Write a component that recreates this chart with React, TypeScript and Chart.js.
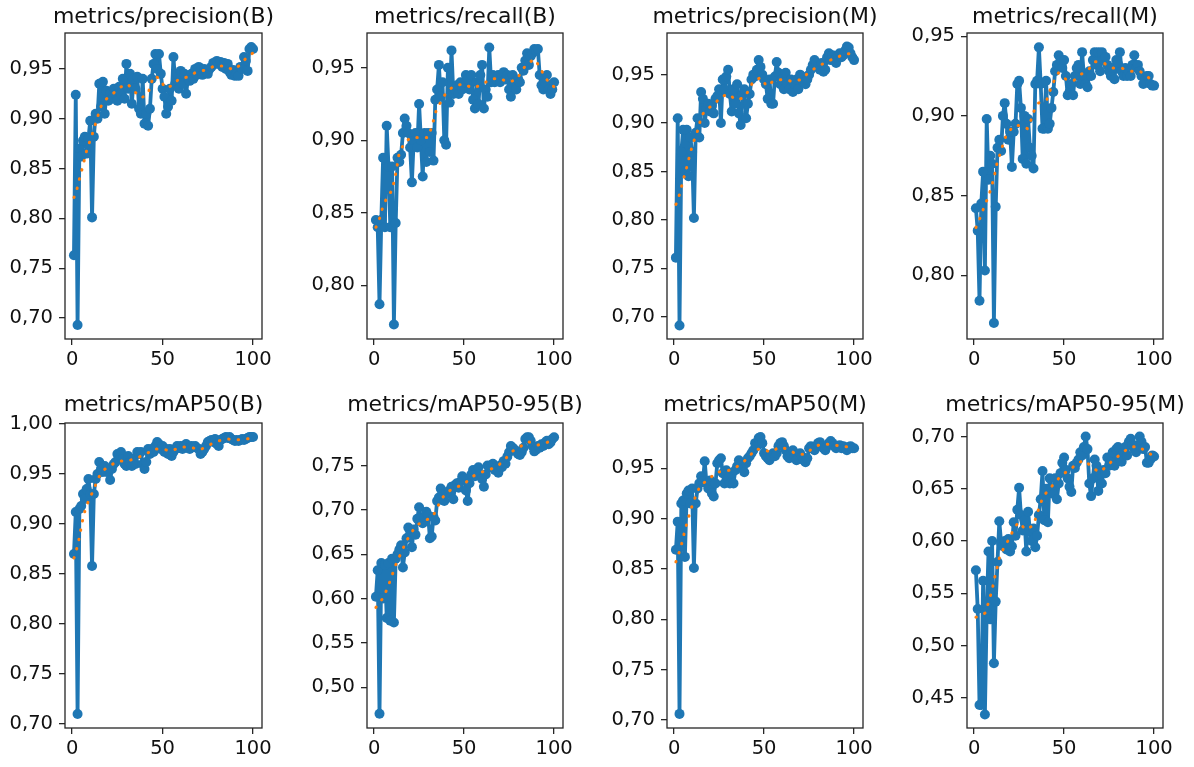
import React, { useEffect, useRef } from "react";
import { Chart, registerables } from "chart.js";

Chart.register(...registerables);

// ---------- data ----------
const EPOCHS = Array.from({ length: 100 }, (_, i) => i + 1);
const X_TICKS = [0, 50, 100];

const PRECISION_B = [
  0.763, 0.924, 0.693, 0.870, 0.862, 0.878, 0.882, 0.865, 0.880, 0.898,
  0.801, 0.882, 0.905, 0.900, 0.935, 0.912, 0.937, 0.905, 0.928, 0.918,
  0.925, 0.920, 0.930, 0.924, 0.918, 0.932, 0.925, 0.940, 0.920, 0.955,
  0.930, 0.945, 0.915, 0.940, 0.930, 0.942, 0.910, 0.905, 0.940, 0.895,
  0.905, 0.893, 0.910, 0.940, 0.955, 0.965, 0.950, 0.965, 0.945, 0.930,
  0.922, 0.905, 0.912, 0.930, 0.918, 0.962, 0.935, 0.945, 0.930, 0.948,
  0.935, 0.945, 0.925, 0.940, 0.938, 0.945, 0.940, 0.950, 0.944, 0.952,
  0.948, 0.944, 0.950, 0.947, 0.945, 0.950, 0.952, 0.956, 0.955, 0.958,
  0.955, 0.957, 0.952, 0.956, 0.950, 0.955, 0.947, 0.944, 0.949, 0.943,
  0.945, 0.943, 0.952, 0.950, 0.962, 0.958, 0.948, 0.970, 0.972, 0.970,
];
const PRECISION_B_SMOOTH = [
  [1, 0.821], [2, 0.825], [3.3, 0.834], [4.6, 0.844], [6.1, 0.853], [7.2, 0.863], [8.7, 0.872],
  [10.7, 0.882], [12.2, 0.891], [14, 0.901], [15.3, 0.91], [17.7, 0.918], [21.9, 0.924],
  [26, 0.931], [30.6, 0.935], [34.6, 0.927], [38.3, 0.921], [42, 0.925], [43.3, 0.934],
  [45.3, 0.943], [48.8, 0.94], [51.2, 0.931], [55.2, 0.933], [59.1, 0.94], [64.1, 0.942],
  [68.7, 0.947], [74.2, 0.949], [78.8, 0.953], [84.3, 0.953], [89, 0.949], [93, 0.954],
  [96.7, 0.962], [100, 0.966],
];

const RECALL_B = [
  0.845, 0.840, 0.787, 0.845, 0.888, 0.840, 0.910, 0.882, 0.840, 0.882,
  0.773, 0.843, 0.888, 0.885, 0.890, 0.905, 0.915, 0.910, 0.905, 0.895,
  0.871, 0.900, 0.905, 0.895, 0.925, 0.900, 0.875, 0.905, 0.885, 0.905,
  0.892, 0.905, 0.886, 0.928, 0.935, 0.952, 0.930, 0.940, 0.900, 0.897,
  0.950, 0.926, 0.962, 0.932, 0.935, 0.938, 0.932, 0.940, 0.935, 0.940,
  0.945, 0.942, 0.935, 0.945, 0.928, 0.922, 0.940, 0.925, 0.945, 0.952,
  0.922, 0.935, 0.930, 0.964, 0.940, 0.945, 0.940, 0.942, 0.945, 0.940,
  0.945, 0.947, 0.942, 0.945, 0.935, 0.930, 0.945, 0.940, 0.935, 0.942,
  0.940, 0.950, 0.948, 0.955, 0.960, 0.952, 0.958, 0.960, 0.963, 0.962,
  0.963, 0.945, 0.938, 0.935, 0.940, 0.945, 0.935, 0.932, 0.935, 0.940,
];
const RECALL_B_SMOOTH = [
  [1, 0.84], [1.5, 0.841], [3.3, 0.847], [4.8, 0.854], [6.9, 0.86], [10.2, 0.866], [11.1, 0.872],
  [12.2, 0.878], [13, 0.884], [13.9, 0.891], [16.7, 0.898], [20.4, 0.902], [25.9, 0.902],
  [30, 0.902], [31.9, 0.909], [33.3, 0.915], [34.8, 0.922], [37.4, 0.927], [40, 0.933],
  [43.9, 0.937], [49.6, 0.939], [54.6, 0.936], [59.3, 0.938], [64.4, 0.942], [69.4, 0.943],
  [74.6, 0.94], [79.4, 0.942], [82, 0.948], [85.2, 0.953], [89.3, 0.956], [92.2, 0.95],
  [94.8, 0.944], [98.1, 0.938], [100, 0.937],
];

const PRECISION_M = [
  0.761, 0.905, 0.691, 0.870, 0.893, 0.850, 0.893, 0.845, 0.885, 0.870,
  0.802, 0.890, 0.905, 0.885, 0.932, 0.925, 0.900, 0.915, 0.920, 0.912,
  0.918, 0.910, 0.925, 0.928, 0.935, 0.900, 0.945, 0.935, 0.948, 0.955,
  0.930, 0.912, 0.935, 0.920, 0.940, 0.910, 0.898, 0.930, 0.935, 0.905,
  0.920, 0.930, 0.945, 0.950, 0.948, 0.955, 0.965, 0.958, 0.950, 0.945,
  0.940, 0.925, 0.945, 0.920, 0.920, 0.948, 0.963, 0.952, 0.940, 0.945,
  0.935, 0.952, 0.940, 0.935, 0.945, 0.932, 0.940, 0.945, 0.935, 0.950,
  0.948, 0.942, 0.940, 0.945, 0.950, 0.955, 0.960, 0.965, 0.962, 0.958,
  0.955, 0.962, 0.953, 0.955, 0.968, 0.972, 0.965, 0.970, 0.965, 0.962,
  0.970, 0.972, 0.968, 0.970, 0.975, 0.979, 0.978, 0.972, 0.968, 0.965,
];
const PRECISION_M_SMOOTH = [
  [1, 0.816], [1.5, 0.818], [3.3, 0.828], [4.6, 0.838], [6.1, 0.848], [7.4, 0.857], [8.7, 0.867],
  [10.2, 0.877], [12, 0.887], [13.9, 0.896], [14.8, 0.906], [17.6, 0.914], [22.2, 0.919],
  [25.9, 0.927], [30.2, 0.93], [34.3, 0.924], [38.9, 0.926], [41.5, 0.934], [43.9, 0.943],
  [48.1, 0.947], [51.5, 0.938], [55.6, 0.944], [60.7, 0.945], [65.7, 0.943], [70.9, 0.945],
  [75, 0.953], [79.6, 0.958], [84.3, 0.963], [89.4, 0.967], [94.4, 0.971], [99, 0.972],
  [100, 0.971],
];

const RECALL_M = [
  0.842, 0.828, 0.784, 0.845, 0.865, 0.803, 0.898, 0.860, 0.875, 0.870,
  0.770, 0.843, 0.880, 0.885, 0.878, 0.900, 0.908, 0.895, 0.885, 0.890,
  0.868, 0.890, 0.895, 0.920, 0.922, 0.905, 0.873, 0.900, 0.870, 0.898,
  0.880, 0.875, 0.867, 0.920, 0.922, 0.943, 0.920, 0.892, 0.892, 0.922,
  0.892, 0.895, 0.905, 0.915, 0.928, 0.932, 0.938, 0.935, 0.930, 0.935,
  0.925, 0.913, 0.915, 0.920, 0.913, 0.925, 0.930, 0.932, 0.920, 0.940,
  0.925, 0.920, 0.918, 0.928, 0.925, 0.935, 0.940, 0.932, 0.940, 0.928,
  0.940, 0.935, 0.937, 0.932, 0.928, 0.925, 0.930, 0.923, 0.935, 0.932,
  0.940, 0.928, 0.925, 0.930, 0.925, 0.928, 0.925, 0.932, 0.938, 0.930,
  0.932, 0.928, 0.925, 0.920, 0.922, 0.925, 0.925, 0.920, 0.919, 0.919,
];
const RECALL_M_SMOOTH = [
  [1, 0.83], [1.5, 0.831], [3.7, 0.837], [5.6, 0.843], [7.8, 0.849], [9.3, 0.854], [10.7, 0.86],
  [12, 0.866], [13, 0.872], [15.2, 0.878], [16.3, 0.884], [18.5, 0.889], [22.2, 0.894],
  [25.9, 0.894], [29.6, 0.892], [31.5, 0.897], [33.3, 0.903], [35.7, 0.908], [40.4, 0.91],
  [42.2, 0.916], [44, 0.921], [46.9, 0.927], [50.9, 0.923], [55.2, 0.922], [59.3, 0.926],
  [63.5, 0.929], [67.2, 0.934], [72.2, 0.933], [76.9, 0.93], [81.9, 0.93], [87, 0.928],
  [92.2, 0.928], [96.9, 0.924], [100, 0.921],
];

const MAP50_B = [
  0.870, 0.912, 0.710, 0.915, 0.918, 0.930, 0.925, 0.935, 0.945, 0.930,
  0.858, 0.930, 0.945, 0.950, 0.962, 0.955, 0.952, 0.958, 0.952, 0.955,
  0.944, 0.955, 0.960, 0.962, 0.970, 0.965, 0.972, 0.965, 0.960, 0.958,
  0.968, 0.962, 0.958, 0.965, 0.960, 0.972, 0.970, 0.972, 0.960, 0.955,
  0.962, 0.975, 0.970, 0.975, 0.972, 0.978, 0.982, 0.980, 0.975, 0.978,
  0.972, 0.975, 0.970, 0.975, 0.968, 0.972, 0.975, 0.978, 0.976, 0.978,
  0.975, 0.978, 0.980, 0.976, 0.975, 0.978, 0.977, 0.978, 0.976, 0.975,
  0.970, 0.972, 0.975, 0.978, 0.982, 0.983, 0.984, 0.982, 0.985, 0.980,
  0.978, 0.984, 0.985, 0.986, 0.987, 0.986, 0.987, 0.985, 0.984, 0.983,
  0.984, 0.983, 0.984, 0.985, 0.984, 0.985, 0.986, 0.987, 0.987, 0.987,
];
const MAP50_B_SMOOTH = [
  [1, 0.866], [1.7, 0.869], [2.9, 0.878], [4.2, 0.888], [5.1, 0.898], [6.2, 0.907], [7.5, 0.916],
  [9.7, 0.926], [11.9, 0.934], [13.9, 0.944], [16.7, 0.953], [20.7, 0.958], [25.3, 0.963],
  [30.8, 0.963], [35.8, 0.966], [41, 0.97], [45, 0.975], [49.7, 0.975], [54.7, 0.973],
  [60.2, 0.977], [65.3, 0.977], [70.6, 0.974], [75.8, 0.979], [80.7, 0.983], [85.9, 0.985],
  [90.8, 0.984], [96, 0.985], [100, 0.986],
];

const MAP50_95_B = [
  0.602, 0.632, 0.470, 0.640, 0.600, 0.638, 0.578, 0.640, 0.575, 0.645,
  0.573, 0.645, 0.650, 0.655, 0.660, 0.635, 0.652, 0.668, 0.680, 0.672,
  0.658, 0.678, 0.672, 0.690, 0.703, 0.690, 0.685, 0.692, 0.698, 0.694,
  0.668, 0.670, 0.692, 0.688, 0.710, 0.714, 0.724, 0.718, 0.710, 0.720,
  0.718, 0.722, 0.726, 0.712, 0.728, 0.730, 0.725, 0.732, 0.738, 0.735,
  0.722, 0.710, 0.730, 0.740, 0.745, 0.738, 0.745, 0.748, 0.740, 0.735,
  0.726, 0.740, 0.750, 0.748, 0.750, 0.752, 0.745, 0.748, 0.742, 0.750,
  0.748, 0.755, 0.752, 0.760, 0.765, 0.772, 0.770, 0.768, 0.766, 0.763,
  0.762, 0.765, 0.770, 0.780, 0.782, 0.782, 0.778, 0.772, 0.766, 0.768,
  0.772, 0.770, 0.774, 0.772, 0.776, 0.778, 0.774, 0.776, 0.780, 0.782,
];
const MAP50_95_B_SMOOTH = [
  [1, 0.59], [1.9, 0.593], [5.2, 0.601], [7.4, 0.612], [9.3, 0.622], [11.1, 0.633], [13, 0.643],
  [15.4, 0.653], [17.6, 0.664], [20.4, 0.673], [23.1, 0.682], [27.4, 0.687], [32.4, 0.692],
  [34.8, 0.701], [37, 0.711], [40.4, 0.72], [45, 0.725], [50, 0.729], [54.1, 0.737],
  [58.7, 0.742], [63.9, 0.745], [68.9, 0.75], [72.8, 0.757], [75.9, 0.765], [80.9, 0.771],
  [85.6, 0.777], [90.7, 0.773], [95.9, 0.776], [100, 0.779],
];

const MAP50_M = [
  0.869, 0.897, 0.706, 0.915, 0.918, 0.862, 0.925, 0.928, 0.915, 0.930,
  0.851, 0.915, 0.930, 0.935, 0.942, 0.937, 0.957, 0.935, 0.930, 0.938,
  0.925, 0.922, 0.935, 0.955, 0.958, 0.960, 0.945, 0.935, 0.948, 0.940,
  0.935, 0.945, 0.935, 0.948, 0.952, 0.958, 0.955, 0.950, 0.946, 0.955,
  0.960, 0.962, 0.965, 0.968, 0.975, 0.972, 0.980, 0.981, 0.975, 0.965,
  0.962, 0.960, 0.958, 0.962, 0.965, 0.962, 0.965, 0.972, 0.975, 0.976,
  0.972, 0.968, 0.962, 0.960, 0.965, 0.968, 0.962, 0.958, 0.960, 0.965,
  0.962, 0.958, 0.956, 0.960, 0.970, 0.972, 0.970, 0.968, 0.972, 0.975,
  0.976, 0.972, 0.970, 0.968, 0.972, 0.975, 0.977, 0.975, 0.972, 0.970,
  0.972, 0.973, 0.970, 0.972, 0.970, 0.968, 0.971, 0.972, 0.970, 0.970,
];
const MAP50_M_SMOOTH = [
  [1, 0.857], [1.5, 0.86], [3.3, 0.869], [4.8, 0.879], [5.9, 0.888], [7.4, 0.897], [8.9, 0.907],
  [10.6, 0.916], [12.6, 0.925], [14.8, 0.934], [18.9, 0.938], [23.1, 0.946], [27.8, 0.947],
  [33, 0.949], [37.4, 0.955], [41.7, 0.961], [44.8, 0.969], [49.1, 0.969], [53.7, 0.966],
  [58.3, 0.971], [63.3, 0.969], [68, 0.964], [73.1, 0.964], [76.9, 0.97], [81.5, 0.974],
  [87, 0.974], [92.2, 0.972], [98.1, 0.971], [100, 0.97],
];

const MAP50_95_M = [
  0.572, 0.535, 0.443, 0.443, 0.562, 0.434, 0.532, 0.590, 0.525, 0.600,
  0.483, 0.542, 0.580, 0.619, 0.598, 0.595, 0.600, 0.592, 0.602, 0.590,
  0.595, 0.618, 0.605, 0.630, 0.651, 0.625, 0.610, 0.620, 0.590, 0.628,
  0.610, 0.600, 0.612, 0.594, 0.605, 0.625, 0.640, 0.667, 0.620, 0.650,
  0.618, 0.660, 0.650, 0.645, 0.660, 0.640, 0.655, 0.665, 0.675, 0.680,
  0.668, 0.660, 0.652, 0.647, 0.672, 0.670, 0.675, 0.678, 0.685, 0.682,
  0.690, 0.700, 0.688, 0.655, 0.643, 0.660, 0.678, 0.672, 0.648, 0.665,
  0.655, 0.668, 0.665, 0.680, 0.672, 0.675, 0.685, 0.672, 0.688, 0.690,
  0.680, 0.676, 0.685, 0.690, 0.682, 0.695, 0.698, 0.692, 0.688, 0.685,
  0.692, 0.700, 0.695, 0.688, 0.690, 0.675, 0.675, 0.678, 0.682, 0.681,
];
const MAP50_95_M_SMOOTH = [
  [1, 0.527], [1.9, 0.528], [6.1, 0.531], [7.8, 0.54], [9.3, 0.549], [10.6, 0.558], [11.7, 0.567],
  [13, 0.576], [14.3, 0.586], [16.7, 0.594], [19.4, 0.602], [21.9, 0.611], [24.6, 0.618],
  [28.7, 0.611], [33, 0.615], [34.6, 0.624], [36.5, 0.634], [38.5, 0.643], [42, 0.65],
  [45.4, 0.657], [49.1, 0.664], [53.3, 0.668], [57.4, 0.675], [61.7, 0.677], [65.2, 0.671],
  [69.4, 0.666], [73.5, 0.671], [77.4, 0.678], [81.5, 0.683], [85.7, 0.689], [90.7, 0.691],
  [95.4, 0.686], [100, 0.681],
];

const Y_TICKS_A = [0.7, 0.75, 0.8, 0.85, 0.9, 0.95];
const Y_TICKS_B = [0.8, 0.85, 0.9, 0.95];
const Y_TICKS_C = [0.7, 0.75, 0.8, 0.85, 0.9, 0.95, 1.0];
const Y_TICKS_D = [0.5, 0.55, 0.6, 0.65, 0.7, 0.75];
const Y_TICKS_E = [0.45, 0.5, 0.55, 0.6, 0.65, 0.7];

const PANELS = [
  { title: "metrics/precision(B)", raw: PRECISION_B, smooth: PRECISION_B_SMOOTH, yMin: 0.679, yMax: 0.986, yTicks: Y_TICKS_A },
  { title: "metrics/recall(B)", raw: RECALL_B, smooth: RECALL_B_SMOOTH, yMin: 0.763, yMax: 0.974, yTicks: Y_TICKS_B },
  { title: "metrics/precision(M)", raw: PRECISION_M, smooth: PRECISION_M_SMOOTH, yMin: 0.677, yMax: 0.993, yTicks: Y_TICKS_A },
  { title: "metrics/recall(M)", raw: RECALL_M, smooth: RECALL_M_SMOOTH, yMin: 0.760, yMax: 0.952, yTicks: Y_TICKS_B },
  { title: "metrics/mAP50(B)", raw: MAP50_B, smooth: MAP50_B_SMOOTH, yMin: 0.696, yMax: 1.001, yTicks: Y_TICKS_C },
  { title: "metrics/mAP50-95(B)", raw: MAP50_95_B, smooth: MAP50_95_B_SMOOTH, yMin: 0.454, yMax: 0.798, yTicks: Y_TICKS_D },
  { title: "metrics/mAP50(M)", raw: MAP50_M, smooth: MAP50_M_SMOOTH, yMin: 0.692, yMax: 0.995, yTicks: Y_TICKS_A },
  { title: "metrics/mAP50-95(M)", raw: MAP50_95_M, smooth: MAP50_95_M_SMOOTH, yMin: 0.421, yMax: 0.713, yTicks: Y_TICKS_E },
];

// ---------- layout ----------
const COL_LEFT = [65, 367, 667, 967];
const COL_W = [197, 196, 196, 196];
const ROW_TOP = [33, 423];
const ROW_H = [306, 305];
const Y_W = 65;
const TITLE_H = 33;
const X_H = 40;
const RIGHT_PAD = 24;
const TITLE_BASELINE = [22.7, 20.7];

const FONT = "'DejaVu Sans', 'Liberation Sans', sans-serif";
const BLUE = "#1f77b4";
const ORANGE = "#ff7f0e";
const INK = "#262626";

const framePlugin = {
  id: "frame",
  afterDatasetsDraw(chart: any) {
    const { ctx, chartArea: a } = chart;
    ctx.save();
    ctx.strokeStyle = INK;
    ctx.lineWidth = 1.3;
    ctx.strokeRect(a.left, a.top, a.right - a.left, a.bottom - a.top);
    ctx.restore();
  },
};

const titlePlugin = {
  id: "panelTitle",
  afterDraw(chart: any, _args: any, opts: any) {
    const { ctx, chartArea: a } = chart;
    ctx.save();
    ctx.fillStyle = "#111";
    ctx.font = `normal 22px ${FONT}`;
    ctx.textAlign = "center";
    ctx.textBaseline = "alphabetic";
    ctx.fillText(opts.text, (a.left + a.right) / 2, opts.baseline);
    ctx.restore();
  },
};

function Panel({ spec, index }: { spec: any; index: number }) {
  const ref = useRef<HTMLCanvasElement | null>(null);
  const col = index % 4;
  const row = Math.floor(index / 4);
  const w = Y_W + COL_W[col] + RIGHT_PAD;
  const h = TITLE_H + ROW_H[row] + X_H;
  const left = COL_LEFT[col] - Y_W;
  const top = ROW_TOP[row] - TITLE_H;

  useEffect(() => {
    const grid = {
      drawOnChartArea: false,
      drawTicks: true,
      tickLength: 6,
      tickWidth: 1.3,
      tickColor: INK,
      color: INK,
      lineWidth: 1.3,
    };
    const chart = new Chart(ref.current as HTMLCanvasElement, {
      type: "line",
      data: {
        datasets: [
          {
            data: spec.smooth.map((p: number[]) => ({ x: p[0], y: p[1] })),
            borderColor: ORANGE,
            borderWidth: 3,
            borderDash: [0.5, 9],
            borderCapStyle: "round",
            borderJoinStyle: "round",
            pointRadius: 0,
            tension: 0,
            order: 0,
            clip: 0,
          } as any,
          {
            data: EPOCHS.map((e, i) => ({ x: e, y: spec.raw[i] })),
            borderColor: BLUE,
            backgroundColor: BLUE,
            borderWidth: 3.8,
            borderJoinStyle: "round",
            borderCapStyle: "round",
            pointRadius: 5,
            pointHoverRadius: 5,
            pointBackgroundColor: BLUE,
            pointBorderWidth: 0,
            tension: 0,
            order: 1,
            clip: 0,
          } as any,
        ],
      },
      options: {
        animation: false,
        responsive: false,
        devicePixelRatio: 1,
        events: [],
        layout: { padding: { left: 0, right: RIGHT_PAD, top: TITLE_H, bottom: 0 } },
        plugins: {
          legend: { display: false },
          tooltip: { enabled: false },
          title: { display: false },
          panelTitle: { text: spec.title, baseline: TITLE_BASELINE[row] },
        },
        scales: {
          x: {
            type: "linear",
            min: -3.95,
            max: 104.95,
            afterBuildTicks: (s: any) => {
              s.ticks = X_TICKS.map((v) => ({ value: v }));
            },
            afterFit: (s: any) => {
              s.height = X_H;
              s.paddingLeft = 0;
              s.paddingRight = 0;
            },
            ticks: {
              autoSkip: false,
              maxRotation: 0,
              minRotation: 0,
              padding: 3,
              color: "#111",
              font: { family: FONT, size: 19.5 },
              callback: (v: any) => String(Math.round(Number(v))),
            },
            grid,
            border: { display: false },
          },
          y: {
            type: "linear",
            min: spec.yMin,
            max: spec.yMax,
            afterBuildTicks: (s: any) => {
              s.ticks = spec.yTicks.map((v: number) => ({ value: v }));
            },
            afterFit: (s: any) => {
              s.width = Y_W;
              s.paddingTop = 0;
              s.paddingBottom = 0;
            },
            ticks: {
              autoSkip: false,
              padding: 6,
              color: "#111",
              font: { family: FONT, size: 19.5 },
              callback: (v: any) => Number(v).toFixed(2).replace(".", ","),
            },
            grid,
            border: { display: false },
          },
        },
      } as any,
      plugins: [framePlugin, titlePlugin],
    });
    return () => chart.destroy();
  }, []);

  return (
    <canvas
      ref={ref}
      width={w}
      height={h}
      style={{ position: "absolute", left, top, width: w, height: h }}
    />
  );
}

export default function App() {
  return (
    <div
      style={{
        position: "fixed",
        left: 0,
        top: 0,
        width: 1194,
        height: 767,
        background: "#ffffff",
        overflow: "hidden",
      }}
    >
      {PANELS.map((p, i) => (
        <Panel key={p.title} spec={p} index={i} />
      ))}
    </div>
  );
}
